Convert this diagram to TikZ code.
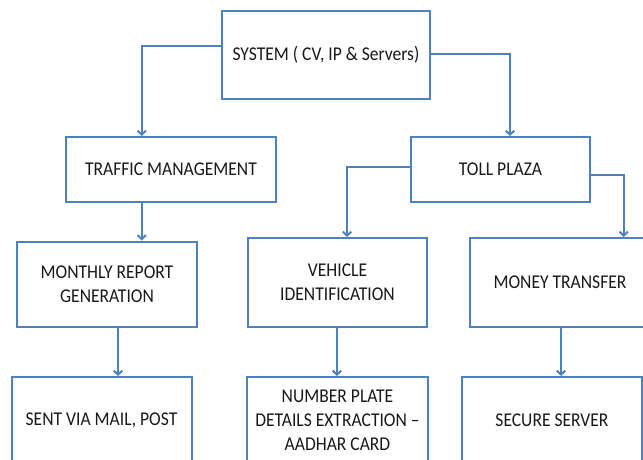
\documentclass[tikz,border=0pt]{standalone}
\usepackage{fontspec}
\setmainfont{Carlito}[FakeStretch=0.9]
\usetikzlibrary{arrows.meta,calc}
\definecolor{linkblue}{HTML}{4F81BD}
\tikzset{
  box/.style={draw=linkblue, line width=2pt, fill=white, align=center,
    inner sep=0pt, font=\fontsize{19.5}{24}\selectfont, text=black!90},
  conn/.style={draw=linkblue, line width=2.2pt,
    -{Straight Barb[length=4pt,width=8.5pt,line width=2pt]}},
}
\begin{document}
\begin{tikzpicture}[x=1pt,y=-1pt]
  \useasboundingbox (0,0) rectangle (643,459);
  \clip (0,0) rectangle (643,459);
  \fill[white] (0,0) rectangle (643,459);

  % first level
  \node[box, minimum width=208pt, minimum height=88pt] (sys) at (326,55) {SYSTEM ( CV, IP \& Servers)};
  % second level
  \node[box, minimum width=210pt, minimum height=65pt] (traffic) at (171,169.5) {TRAFFIC MANAGEMENT};
  \node[box, minimum width=179pt, minimum height=65pt] (toll) at (500.5,169.5) {TOLL PLAZA};
  % third level
  \node[box, minimum width=180pt, minimum height=85pt] (report) at (107,284) {MONTHLY REPORT\\GENERATION};
  \node[box, minimum width=179pt, minimum height=89pt] (vehicle) at (337.5,282.5) {VEHICLE\\IDENTIFICATION};
  \node[box, minimum width=180pt, minimum height=89pt] (money) at (560,282.5) {MONEY TRANSFER};
  % fourth level
  \node[box, minimum width=180pt, minimum height=86pt] (mail) at (101.5,420) {SENT VIA MAIL, POST};
  \node[box, minimum width=181pt, minimum height=86pt] (plate) at (337.5,420) {NUMBER PLATE\\DETAILS EXTRACTION --\\AADHAR CARD};
  \node[box, minimum width=180pt, minimum height=86pt] (secure) at (552,420) {SECURE SERVER};

  % connectors
  \draw[conn] ($(sys.north west)!0.398!(sys.south west)$) -| ($(traffic.north west)!0.362!(traffic.north east)$);
  \draw[conn] ($(sys.north east)!0.49!(sys.south east)$) -| ($(toll.north west)!0.553!(toll.north east)$);
  \draw[conn] ($(traffic.south west)!0.362!(traffic.south east)$) coordinate (t1) -- (t1 |- report.north);
  \draw[conn] ($(toll.north west)!0.46!(toll.south west)$) -| ($(vehicle.north west)!0.553!(vehicle.north east)$);
  \draw[conn] ($(toll.north east)!0.58!(toll.south east)$) -| ($(money.north west)!0.85!(money.north east)$);
  \draw[conn] ($(report.south west)!0.561!(report.south east)$) coordinate (r1) -- (r1 |- mail.north);
  \draw[conn] ($(vehicle.south west)!0.497!(vehicle.south east)$) coordinate (v1) -- (v1 |- plate.north);
  \draw[conn] ($(money.south west)!0.506!(money.south east)$) coordinate (m1) -- (m1 |- secure.north);
\end{tikzpicture}
\end{document}
